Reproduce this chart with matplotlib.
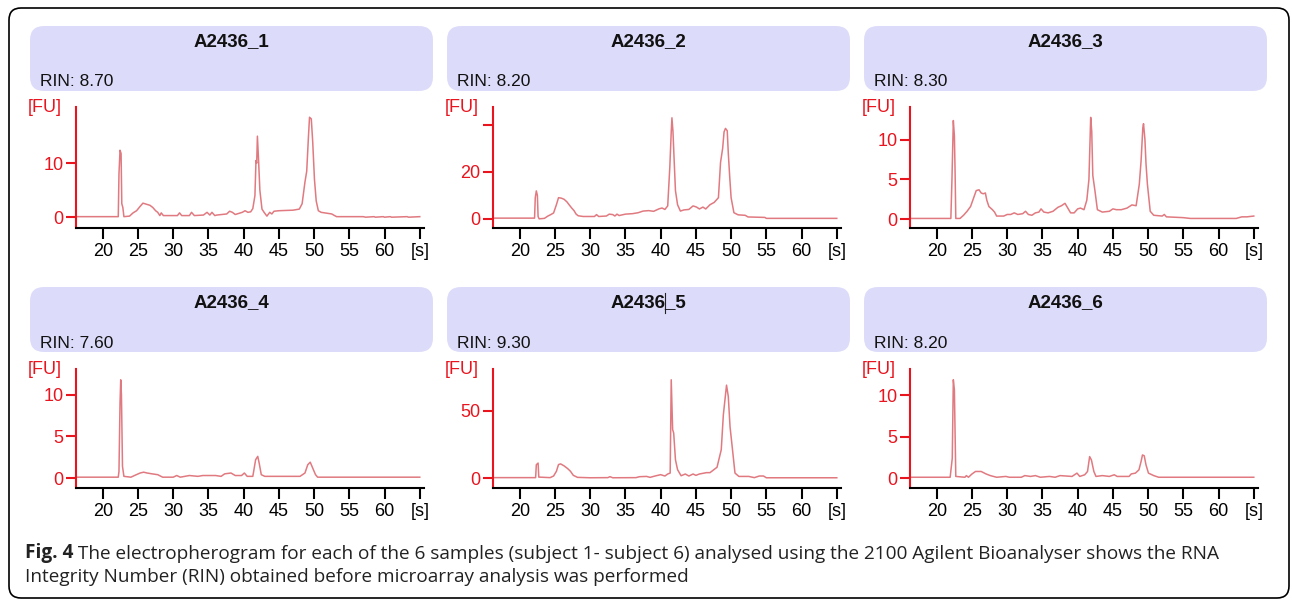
import matplotlib.pyplot as plt
from matplotlib.patches import FancyBboxPatch

plt.rcParams['font.family'] = ['Liberation Sans', 'DejaVu Sans']

samples = ['A2436_1', 'A2436_2', 'A2436_3', 'A2436_4', 'A2436_5', 'A2436_6']
rin = [8.70, 8.20, 8.30, 7.60, 9.30, 8.20]

x_ticks = [20, 25, 30, 35, 40, 45, 50, 55, 60, 65]
x_labels = ['20', '25', '30', '35', '40', '45', '50', '55', '60', '[s]']

y_ticks = [[0, 10], [0, 20, 40], [0, 5, 10], [0, 5, 10], [0, 50], [0, 5, 10]]
y_labels = [['0', '10'], ['0', '20', ''], ['0', '5', '10'],
            ['0', '5', '10'], ['0', '50'], ['0', '5', '10']]
y_lims = [(-2.0, 20.4), (-3.9, 47.6), (-1.1, 14.1),
          (-1.2, 13.1), (-7.4, 81), (-1.2, 13.2)]

# (time [s], fluorescence [FU])
s1 = [(16.3, 0.1), (22.2, 0.1), (22.3, 8), (22.45, 12.4), (22.6, 11.8), (22.7, 2.5),
      (22.85, 1.8), (23.0, 0.1), (23.8, 0.2), (24.3, 0.8), (24.8, 1.2), (25.3, 2.0),
      (25.7, 2.6), (26.2, 2.4), (26.7, 2.2), (27.1, 1.8), (27.5, 1.2), (27.8, 0.9),
      (28.1, 0.3), (28.3, 0.8), (28.6, 0.3), (30.6, 0.3), (30.9, 0.8), (31.2, 0.3),
      (32.3, 0.3), (32.6, 0.9), (33.0, 0.3), (34.3, 0.4), (34.8, 0.9), (35.2, 0.4),
      (35.5, 0.9), (35.9, 0.3), (36.2, 0.4), (37.6, 0.6), (38.0, 1.1), (38.4, 0.9),
      (38.8, 0.5), (39.8, 0.9), (40.2, 1.2), (40.6, 0.9), (41.0, 1.0), (41.3, 1.6),
      (41.6, 4), (41.75, 10.5), (41.85, 10.0), (41.95, 15.0), (42.1, 11), (42.3, 5),
      (42.6, 1.5), (42.9, 0.9), (43.3, 0.2), (43.7, 0.9), (44.0, 0.6), (44.3, 1.1),
      (45.0, 1.2), (47.0, 1.3), (47.9, 1.5), (48.3, 2.5), (48.7, 6.5), (48.95, 8.5),
      (49.2, 15), (49.35, 18.5), (49.6, 18.2), (49.8, 14), (50.05, 7), (50.3, 3),
      (50.6, 1.2), (51.0, 0.9), (51.5, 0.8), (52.5, 0.6), (52.9, 0.3), (53.2, 0.1),
      (57.0, 0.1), (57.3, 0.0), (58.5, 0.1), (58.7, 0.0), (59.8, 0.1), (60.0, 0.0),
      (60.8, 0.1), (61.0, 0.0), (63.2, 0.1), (63.4, 0.0), (65.0, 0.1)]

s2 = [(16.2, 0.3), (22.1, 0.3), (22.2, 9), (22.35, 11.9), (22.5, 10), (22.6, 1),
      (22.75, 0), (23.5, 0.2), (24.0, 1.2), (24.4, 1.8), (24.8, 2.5), (25.2, 6),
      (25.5, 9), (25.9, 8.8), (26.3, 8.3), (26.7, 7.2), (27.0, 6), (27.4, 4.5),
      (27.7, 3.5), (28.0, 2), (28.3, 1.3), (29.0, 1.0), (30.6, 1.0), (30.9, 1.8),
      (31.2, 1.0), (32.3, 1.2), (32.7, 2.0), (33.2, 1.8), (33.5, 1.2), (33.8, 2.0),
      (34.1, 1.4), (35.0, 2.0), (36.0, 2.2), (36.8, 2.6), (37.5, 3.3), (38.3, 3.5),
      (39.0, 3.2), (39.8, 4.3), (40.2, 4.6), (40.6, 4.0), (41.0, 5.5), (41.3, 22),
      (41.5, 37), (41.6, 43), (41.75, 37), (41.9, 26), (42.1, 12), (42.4, 6),
      (42.8, 3.3), (43.3, 3.8), (44.0, 4.0), (44.6, 5.5), (45.1, 5.0), (45.5, 4.2),
      (46.0, 5.0), (46.4, 4.2), (47.0, 6.0), (47.6, 7.0), (48.2, 9.0), (48.5, 24),
      (48.8, 30), (49.0, 37), (49.2, 38.5), (49.45, 37.5), (49.6, 28), (49.8, 18),
      (50.0, 9), (50.4, 2.6), (51.0, 1.7), (52.0, 1.5), (52.4, 0.8), (54.8, 0.6),
      (55.0, 0.2), (65.0, 0.2)]

s3 = [(16.2, 0.1), (22.0, 0.1), (22.15, 4.8), (22.35, 12.4), (22.5, 10.5), (22.6, 6),
      (22.7, 0.1), (23.3, 0.1), (23.8, 0.5), (24.3, 1.0), (24.8, 1.6), (25.2, 2.6),
      (25.6, 3.6), (26.0, 3.7), (26.3, 3.3), (26.6, 3.2), (26.9, 3.3), (27.1, 2.4),
      (27.4, 1.6), (27.9, 1.2), (28.2, 0.9), (28.5, 0.4), (29.5, 0.4), (30.0, 0.6),
      (30.5, 0.6), (31.0, 0.8), (31.5, 0.6), (32.2, 0.7), (32.6, 1.0), (33.0, 0.6),
      (33.5, 0.5), (34.0, 0.8), (34.5, 0.9), (34.8, 1.3), (35.2, 0.9), (35.8, 0.8),
      (36.5, 1.0), (37.2, 1.5), (37.7, 1.7), (38.2, 2.0), (38.6, 1.4), (39.0, 0.8),
      (39.5, 0.8), (40.0, 1.3), (40.4, 1.4), (40.9, 1.2), (41.3, 2.4), (41.6, 5),
      (41.85, 12.8), (42.0, 11.0), (42.15, 5.5), (42.45, 3.6), (42.8, 1.2), (43.5, 0.9),
      (44.5, 1.0), (45.0, 1.3), (45.5, 1.2), (46.2, 1.2), (47.0, 1.4), (47.7, 1.8),
      (48.3, 1.7), (48.75, 4.4), (49.0, 7.3), (49.25, 11.5), (49.35, 12.0), (49.55, 10),
      (49.7, 7), (49.9, 4.4), (50.3, 1.0), (50.8, 0.5), (52.0, 0.4), (52.3, 0.6),
      (52.6, 0.3), (55.0, 0.2), (56.0, 0.1), (62.5, 0.1), (63.3, 0.3), (64.0, 0.3),
      (65.0, 0.4)]

s4 = [(16.2, 0.1), (22.2, 0.1), (22.3, 0.8), (22.45, 9), (22.55, 11.8), (22.65, 10),
      (22.8, 1.4), (23.0, 0.2), (24.0, 0.1), (24.5, 0.3), (25.3, 0.6), (25.8, 0.7),
      (26.3, 0.6), (27.0, 0.5), (27.8, 0.4), (28.5, 0.1), (30.0, 0.1), (30.5, 0.3),
      (31.0, 0.1), (32.3, 0.3), (33.5, 0.2), (34.2, 0.3), (36.0, 0.3), (36.8, 0.2),
      (37.3, 0.5), (38.2, 0.6), (38.8, 0.3), (39.7, 0.3), (40.1, 0.6), (40.5, 0.2),
      (41.3, 0.2), (41.7, 2.2), (42.0, 2.6), (42.2, 1.8), (42.5, 0.4), (43.0, 0.2),
      (48.0, 0.2), (48.7, 0.6), (49.1, 1.6), (49.45, 1.9), (49.8, 1.2), (50.2, 0.4),
      (50.5, 0.1), (65.0, 0.1)]

s5 = [(16.2, 0.3), (22.25, 0.3), (22.35, 9.9), (22.6, 11.1), (22.7, 0.7), (24.3, 0.3),
      (24.8, 1.5), (25.2, 5), (25.5, 10), (25.8, 10.5), (26.3, 9), (26.8, 7),
      (27.2, 5), (27.6, 2), (28.2, 0.5), (30.0, 0.2), (32.5, 0.3), (32.8, 1),
      (33.2, 0.2), (36.5, 0.3), (37.0, 1), (38.0, 1.2), (38.5, 0.5), (39.2, 1.5),
      (40.0, 2.5), (40.6, 1.5), (41.0, 3), (41.35, 3.7), (41.5, 73), (41.7, 36),
      (41.85, 33.4), (42.1, 13.6), (42.4, 6.2), (42.9, 1.7), (43.5, 3), (44.0, 1.5),
      (44.6, 3), (45.0, 2), (45.5, 3), (46.5, 4), (47.0, 4), (47.5, 6), (48.0, 8),
      (48.6, 21), (48.9, 47), (49.35, 69), (49.6, 60.6), (49.85, 38), (50.2, 21),
      (50.55, 3.7), (51.1, 1.2), (52.5, 1.2), (53.3, 0.3), (54.0, 1.5), (54.6, 1.5),
      (55.0, 0.2), (65.0, 0.2)]

s6 = [(16.2, 0.1), (21.9, 0.1), (22.2, 2.4), (22.35, 11.9), (22.5, 10.7), (22.7, 0.2),
      (24.0, 0.1), (24.2, 0.3), (24.5, 0.1), (25.0, 0.5), (25.5, 0.8), (26.3, 0.8),
      (27.0, 0.5), (27.6, 0.3), (28.5, 0.1), (29.8, 0.2), (30.3, 0.1), (32.0, 0.1),
      (32.5, 0.3), (33.3, 0.2), (34.0, 0.3), (34.7, 0.1), (36.0, 0.2), (36.8, 0.1),
      (37.5, 0.3), (39.2, 0.2), (39.9, 0.6), (40.3, 0.2), (41.0, 0.4), (41.4, 0.8),
      (41.7, 2.6), (41.95, 2.2), (42.3, 0.8), (42.6, 0.2), (43.5, 0.3), (44.5, 0.2),
      (45.2, 0.4), (45.6, 0.2), (47.3, 0.2), (47.6, 0.5), (48.2, 0.6), (48.7, 1.0),
      (49.0, 2.0), (49.2, 2.8), (49.45, 2.7), (49.7, 1.6), (50.05, 0.6), (50.8, 0.3),
      (51.5, 0.1), (65.0, 0.1)]

traces = [s1, s2, s3, s4, s5, s6]

RED = '#e8141e'
TRACE = '#e07a80'
BOX = '#dcdcfa'

W, H = 1292, 600
fig = plt.figure(figsize=(W / 100, H / 100), dpi=100)

# pixel-space background layer for frame, headers and caption
bg = fig.add_axes([0, 0, 1, 1], zorder=0)
bg.set_xlim(0, W)
bg.set_ylim(H, 0)
bg.axis('off')

fr = 12
bg.add_patch(FancyBboxPatch((9 + fr, 8 + fr), 1289 - 9 - 2 * fr, 598 - 8 - 2 * fr,
                            boxstyle=f'round,pad={fr}', fc='white', ec='black', lw=1.2))

col_box = [30, 447, 864]
row_box = [26, 287]
col_ax = [76, 493, 910]
row_ax = [(107, 228), (369, 488)]
box_w, box_h, r = 403, 65, 14

for i, name in enumerate(samples):
    row, col = divmod(i, 3)
    bx, by = col_box[col], row_box[row]
    bg.add_patch(FancyBboxPatch((bx + r, by + r), box_w - 2 * r, box_h - 2 * r,
                                boxstyle=f'round,pad={r}', fc=BOX, ec='none'))
    bg.text(bx + box_w / 2, by + 16, name, ha='center', va='center',
            fontsize=13.5, fontweight='bold', color='#111111')
    bg.text(bx + 10, by + 56, f'RIN: {rin[i]:.2f}', ha='left', va='center',
            fontsize=12.5, color='#111111')

    top, bot = row_ax[row]
    ax = fig.add_axes([col_ax[col] / W, 1 - bot / H, 348 / W, (bot - top) / H], zorder=1)
    ax.set_facecolor('none')
    xs = [p[0] for p in traces[i]]
    ys = [p[1] for p in traces[i]]
    ax.plot(xs, ys, color=TRACE, lw=1.1)
    ax.set_xlim(16.2, 65.6)
    ax.set_ylim(*y_lims[i])
    ax.set_xticks(x_ticks)
    ax.set_xticklabels(x_labels)
    ax.set_yticks(y_ticks[i])
    ax.set_yticklabels(y_labels[i])
    for s in ['top', 'right']:
        ax.spines[s].set_visible(False)
    ax.spines['left'].set_color(RED)
    ax.spines['left'].set_linewidth(1.5)
    ax.spines['bottom'].set_color('black')
    ax.spines['bottom'].set_linewidth(1.5)
    ax.tick_params(axis='x', colors='black', length=8, width=1.5, labelsize=13, pad=3)
    ax.tick_params(axis='y', colors=RED, length=7, width=1.5, labelsize=13, pad=2)
    ax.annotate('[FU]', xy=(0, 1), xycoords='axes fraction', xytext=(-10, 0),
                textcoords='offset points', ha='right', va='center',
                fontsize=13, color=RED)

# cursor mark captured in the A2436_5 title
bg.plot([665, 665], [293, 313], color='#222222', lw=0.8)

cap_font = ['Open Sans', 'DejaVu Sans']
t1 = bg.text(25, 558, 'Fig. 4', ha='left', va='baseline', fontsize=13.7,
             fontweight='bold', color='#222222', family=cap_font)
bg.annotate(' The electropherogram for each of the 6 samples (subject 1- subject 6) '
            'analysed using the 2100 Agilent Bioanalyser shows the RNA',
            xy=(1, 0), xycoords=t1, ha='left', va='bottom', fontsize=13.7,
            color='#222222', family=cap_font)
bg.text(25, 582, 'Integrity Number (RIN) obtained before microarray analysis was performed',
        ha='left', va='baseline', fontsize=13.7, color='#222222', family=cap_font)

fig.savefig('out.png', dpi=100)
